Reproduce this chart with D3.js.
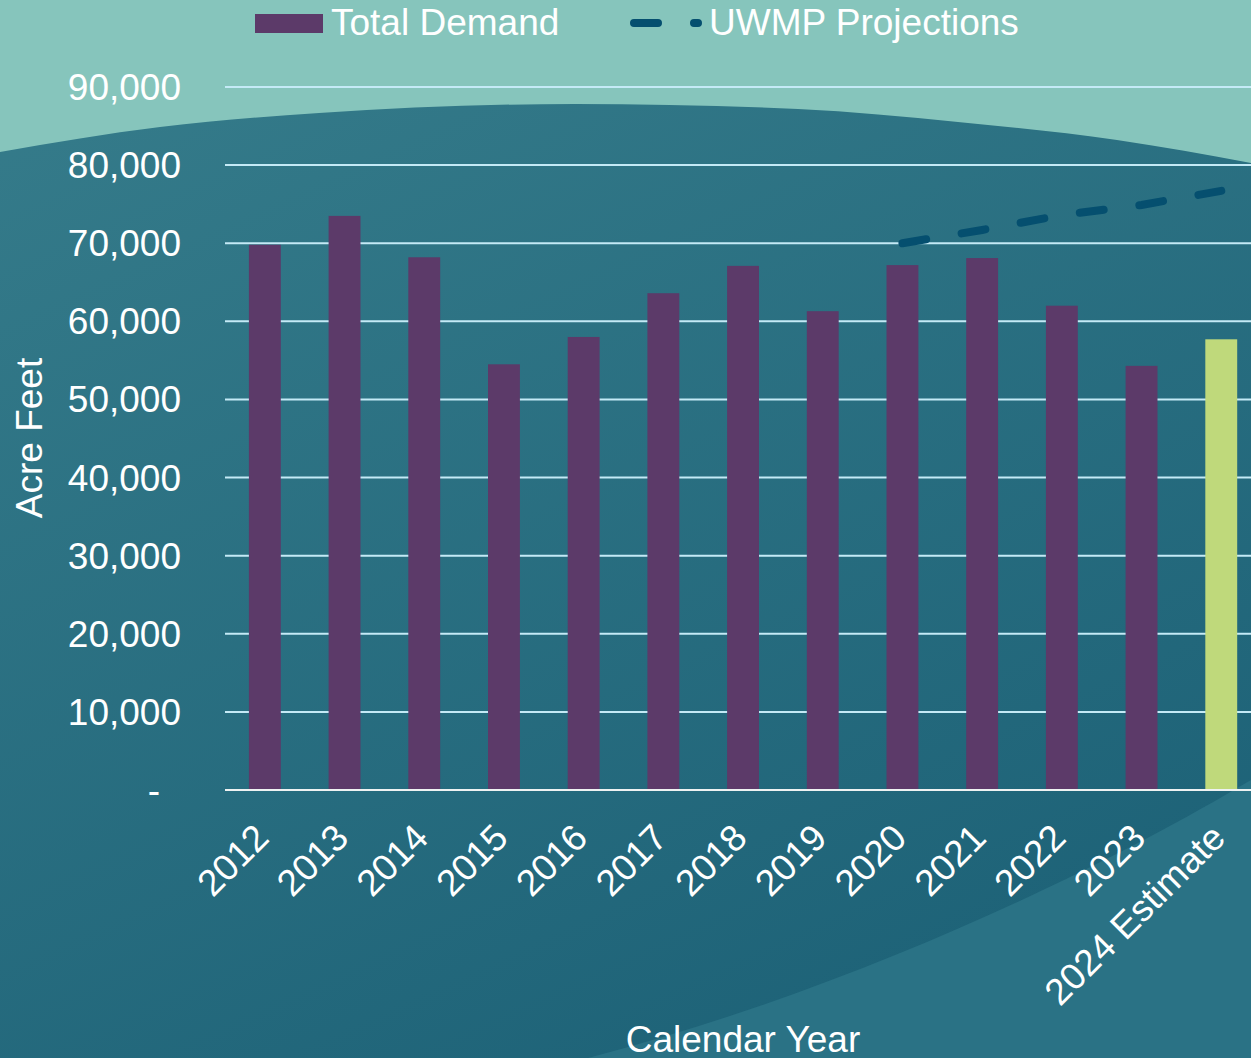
<!DOCTYPE html>
<html>
<head>
<meta charset="utf-8">
<script src="https://cdn.jsdelivr.net/npm/d3@7"></script>
<style>
  html, body { margin: 0; padding: 0; background: #86c5bc; }
  svg { display: block; font-family: "Liberation Sans", Arial, sans-serif; }
</style>
</head>
<body>
<svg id="chart" width="1251" height="1058"></svg>
<script>
// chart data
const years = ["2012", "2013", "2014", "2015", "2016", "2017", "2018", "2019", "2020", "2021", "2022", "2023", "2024 Estimate"];
const totalDemand = [69800, 73500, 68200, 54500, 58000, 63600, 67100, 61300, 67200, 68100, 62000, 54300, 57700];
const projectionYears = ["2020", "2021", "2022", "2023", "2024 Estimate"];
const uwmpProjections = [70000, 71700, 73600, 74900, 76700];
const yTicks = [0, 10000, 20000, 30000, 40000, 50000, 60000, 70000, 80000, 90000];

const width = 1251, height = 1058;
const fontSize = 37;
const svg = d3.select("#chart");

// background decoration
const defs = svg.append("defs");
const grad = defs.append("linearGradient")
  .attr("id", "bgGrad")
  .attr("x1", "0").attr("y1", "0").attr("x2", "0.6").attr("y2", "1");
grad.append("stop").attr("offset", "0").attr("stop-color", "#357b8a");
grad.append("stop").attr("offset", "1").attr("stop-color", "#1e6378");

svg.append("rect").attr("width", width).attr("height", height).attr("fill", "#86c5bc");

const topCurve = [[0, 152], [160, 127], [319, 113], [575, 104], [798, 109], [958, 122], [1117, 140], [1251, 163]];
const curvePath = d3.line().curve(d3.curveMonotoneX)(topCurve);
svg.append("path")
  .attr("d", curvePath + `L${width},${height}L0,${height}Z`)
  .attr("fill", "url(#bgGrad)");

// lighter swoosh at the bottom right
svg.append("path")
  .attr("d", `M${width},780 C1100,870 850,990 588,${height} L${width},${height} Z`)
  .attr("fill", "#2b7386")
  .attr("opacity", 0.9);

// scales
const x = d3.scaleBand()
  .domain(years)
  .range([225, 225 + 13 * 79.7])
  .paddingInner(0.6)
  .paddingOuter(0.3);

const y = d3.scaleLinear()
  .domain([0, 90000])
  .range([790, 87]);

// gridlines
svg.append("g")
  .selectAll("line")
  .data(yTicks.filter(d => d > 0))
  .join("line")
  .attr("x1", 225)
  .attr("x2", width)
  .attr("y1", d => y(d))
  .attr("y2", d => y(d))
  .attr("stroke", "#c4eaf6")
  .attr("stroke-width", 2);

// y tick labels
const fmt = d3.format(",");
svg.append("g")
  .selectAll("text")
  .data(yTicks)
  .join("text")
  .attr("x", d => d === 0 ? 160 : 181)
  .attr("y", d => y(d))
  .attr("dy", "0.35em")
  .attr("text-anchor", "end")
  .attr("fill", "#ffffff")
  .attr("font-size", fontSize)
  .text(d => d === 0 ? "-" : fmt(d));

// bars
svg.append("g")
  .selectAll("rect")
  .data(years.map((yr, i) => ({ year: yr, value: totalDemand[i] })))
  .join("rect")
  .attr("x", d => x(d.year))
  .attr("y", d => y(d.value))
  .attr("width", x.bandwidth())
  .attr("height", d => y(0) - y(d.value))
  .attr("fill", d => d.year === "2024 Estimate" ? "#bfd97b" : "#5c3a69");

// baseline
svg.append("line")
  .attr("x1", 225).attr("x2", width)
  .attr("y1", y(0)).attr("y2", y(0))
  .attr("stroke", "#eef2f2")
  .attr("stroke-width", 2);

// projection line
const projLine = d3.line()
  .x(d => x(d.year) + x.bandwidth() / 2)
  .y(d => y(d.value));
svg.append("path")
  .datum(projectionYears.map((yr, i) => ({ year: yr, value: uwmpProjections[i] })))
  .attr("d", projLine)
  .attr("fill", "none")
  .attr("stroke", "#054f6f")
  .attr("stroke-width", 8)
  .attr("stroke-linecap", "round")
  .attr("stroke-dasharray", "24,36");

// x tick labels, rotated
svg.append("g")
  .selectAll("text")
  .data(years)
  .join("text")
  .attr("transform", d => `translate(${x(d) + x.bandwidth() / 2 + 6},840) rotate(-45)`)
  .attr("text-anchor", "end")
  .attr("fill", "#ffffff")
  .attr("font-size", fontSize)
  .text(d => d);

// axis titles
svg.append("text")
  .attr("transform", "translate(42,438) rotate(-90)")
  .attr("text-anchor", "middle")
  .attr("fill", "#ffffff")
  .attr("font-size", fontSize)
  .text("Acre Feet");

svg.append("text")
  .attr("x", 743)
  .attr("y", 1052)
  .attr("text-anchor", "middle")
  .attr("fill", "#ffffff")
  .attr("font-size", fontSize)
  .text("Calendar Year");

// legend
const legend = svg.append("g");
legend.append("rect")
  .attr("x", 255).attr("y", 14)
  .attr("width", 68).attr("height", 19)
  .attr("fill", "#5c3a69");
legend.append("text")
  .attr("x", 331).attr("y", 35)
  .attr("fill", "#ffffff")
  .attr("font-size", fontSize)
  .text("Total Demand");
legend.append("line")
  .attr("x1", 634).attr("x2", 698)
  .attr("y1", 23).attr("y2", 23)
  .attr("stroke", "#054f6f")
  .attr("stroke-width", 8)
  .attr("stroke-linecap", "round")
  .attr("stroke-dasharray", "24,36");
legend.append("text")
  .attr("x", 709).attr("y", 35)
  .attr("fill", "#ffffff")
  .attr("font-size", fontSize)
  .text("UWMP Projections");
</script>
</body>
</html>
